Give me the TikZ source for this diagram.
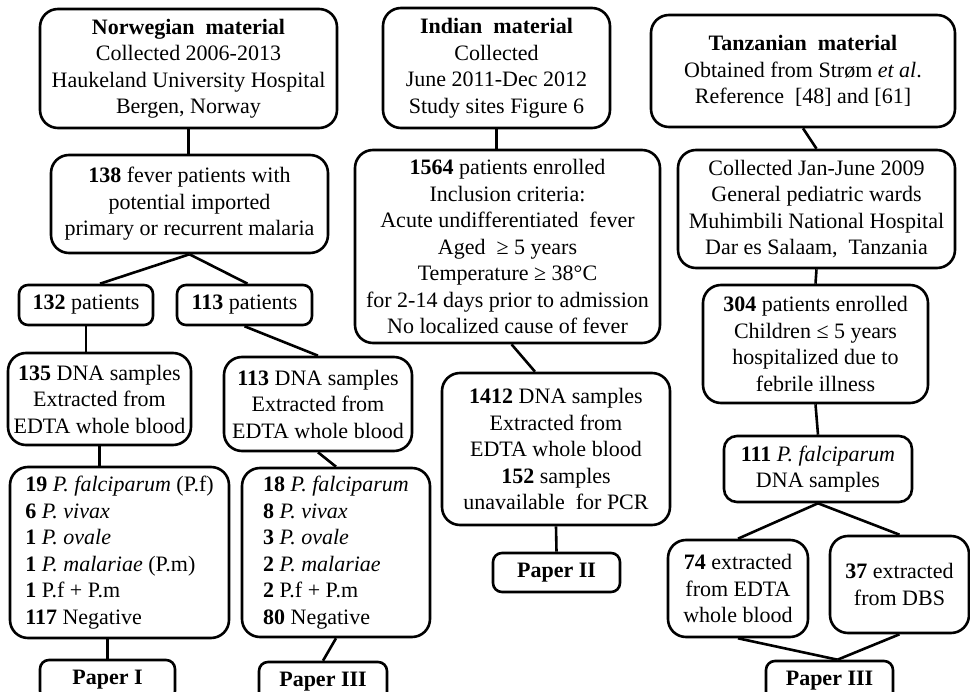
\documentclass[tikz,border=0pt]{standalone}
\usepackage{fontspec}
\setmainfont{Liberation Serif}
\usetikzlibrary{calc}
\newcommand\boxfont{\fontsize{22}{26.5}\selectfont}
\tikzset{
  box/.style={draw, line width=2.6pt, rounded corners=18pt, align=center,
    inner sep=0pt, font=\boxfont},
  smallbox/.style={box, rounded corners=9pt},
  listbox/.style={box, align=left},
  link/.style={line width=2.6pt}
}
\begin{document}
\begin{tikzpicture}[x=1pt,y=-1pt]
\useasboundingbox (0,0) rectangle (970,692);
\clip (0,0) rectangle (970,692);

% Norwegian branch
\node[box, minimum width=297pt, minimum height=119pt] (nor) at (188.5,68.5)
  {\textbf{Norwegian\ \ material}\\Collected 2006-2013\\Haukeland University Hospital\\Bergen, Norway};
\node[box, minimum width=277pt, minimum height=98pt] (n138) at (189.5,204)
  {\textbf{138} fever patients with\\potential imported\\primary or recurrent malaria};
\node[smallbox, minimum width=134pt, minimum height=40pt] (p132) at (86,305)
  {\textbf{132} patients};
\node[smallbox, minimum width=135pt, minimum height=40pt] (p113) at (244.5,305)
  {\textbf{113} patients};
\node[box, minimum width=183pt, minimum height=92pt] (d135) at (99.5,399)
  {\textbf{135} DNA samples\\Extracted from\\EDTA whole blood};
\node[box, minimum width=188pt, minimum height=94pt] (d113) at (318,404)
  {\textbf{113} DNA samples\\Extracted from\\EDTA whole blood};
\node[listbox, minimum width=219pt, minimum height=171pt] (l19) at (119.5,552.5)
  {\textbf{19} \textit{P. falciparum} (P.f)\\
   \textbf{6} \textit{P. vivax}\\
   \textbf{1} \textit{P. ovale}\\
   \textbf{1} \textit{P. malariae} (P.m)\\
   \textbf{1} P.f + P.m\\
   \textbf{117} Negative};
\node[listbox, minimum width=188pt, minimum height=169pt] (l18) at (336,552.5)
  {\textbf{18} \textit{P. falciparum}\hspace{6pt}\\
   \textbf{8} \textit{P. vivax}\\
   \textbf{3} \textit{P. ovale}\\
   \textbf{2} \textit{P. malariae}\\
   \textbf{2} P.f + P.m\\
   \textbf{80} Negative};
\node[smallbox, minimum width=135pt, minimum height=40pt] (pI) at (107.5,680)
  {\textbf{Paper I}};
\node[smallbox, minimum width=128pt, minimum height=40pt] (pIIIa) at (323,682)
  {\textbf{Paper III}};

% Indian branch
\node[box, minimum width=227pt, minimum height=120pt] (ind) at (496.5,68)
  {\textbf{Indian\ \ material}\\Collected\\June 2011-Dec 2012\\Study sites Figure 6};
\node[box, minimum width=305pt, minimum height=193pt] (n1564) at (507.5,246.5)
  {\textbf{1564} patients enrolled\\Inclusion criteria:\\Acute undifferentiated\ \ fever\\
   Aged\ \ ≥ 5 years\\Temperature ≥ 38°C\\for 2-14 days prior to admission\\No localized cause of fever};
\node[box, minimum width=228pt, minimum height=152pt] (d1412) at (556,449)
  {\textbf{1412} DNA samples\\Extracted from\\EDTA whole blood\\\textbf{152} samples\\unavailable\ \ for PCR};
\node[smallbox, minimum width=127pt, minimum height=39pt] (pII) at (556.5,572.5)
  {\textbf{Paper II}};

% Tanzanian branch
\node[box, minimum width=304pt, minimum height=112pt] (tan) at (803,71)
  {\textbf{Tanzanian\ \ material}\\Obtained from Strøm \textit{et al}.\\Reference\ \ [48] and [61]};
\node[box, minimum width=277pt, minimum height=118pt] (col) at (816.5,209)
  {Collected Jan-June 2009\\General pediatric wards\\Muhimbili National Hospital\\Dar es Salaam,\ \ Tanzania};
\node[box, minimum width=225pt, minimum height=118pt] (n304) at (815.5,344)
  {\textbf{304} patients enrolled\\Children ≤ 5 years\\hospitalized due to\\febrile illness};
\node[box, rounded corners=13pt, minimum width=188pt, minimum height=66pt] (n111) at (818,469)
  {\textbf{111} \textit{P. falciparum}\\DNA samples};
\node[box, minimum width=140pt, minimum height=97pt] (e74) at (738,588.5)
  {\textbf{74} extracted\\from EDTA\\whole blood};
\node[box, minimum width=139pt, minimum height=97pt] (e37) at (899.5,584.5)
  {\textbf{37} extracted\\from DBS};
\node[smallbox, minimum width=127pt, minimum height=40pt] (pIIIb) at (829.5,681)
  {\textbf{Paper III}};

% connectors
\draw[link] (nor.south) -- (nor.south |- n138.north);
\draw[link] (n138.south) -- ($(p132.north)+(14,0)$);
\draw[link] (n138.south) -- ($(p113.north)+(3,0)$);
\draw[link] (p132.south) -- (p132.south |- d135.north);
\draw[link] (p113.south) -- (d113.north);
\draw[link] (d135.south) -- (d135.south |- l19.north);
\draw[link] (d113.south) -- (l18.north);
\draw[link] (pI.north |- l19.south) -- (pI.north);
\draw[link] (l18.south) -- (pIIIa.north);

\draw[link] (ind.south) -- (ind.south |- n1564.north);
\draw[link] ($(n1564.south)+(4,0)$) -- ($(d1412.north)+(-21,0)$);
\draw[link] (d1412.south) -- (pII.north);

\draw[link] (tan.south) -- (col.north);
\draw[link] (col.south) -- (n304.north);
\draw[link] (n304.south) -- (n111.north);
\draw[link] (n111.south) -- (e74.north);
\draw[link] (n111.south) -- (e37.north);
\draw[link] (e74.south) -- ($(pIIIb.north)+(8,0)$);
\draw[link] (e37.south) -- ($(pIIIb.north)+(8,0)$);
\end{tikzpicture}
\end{document}
